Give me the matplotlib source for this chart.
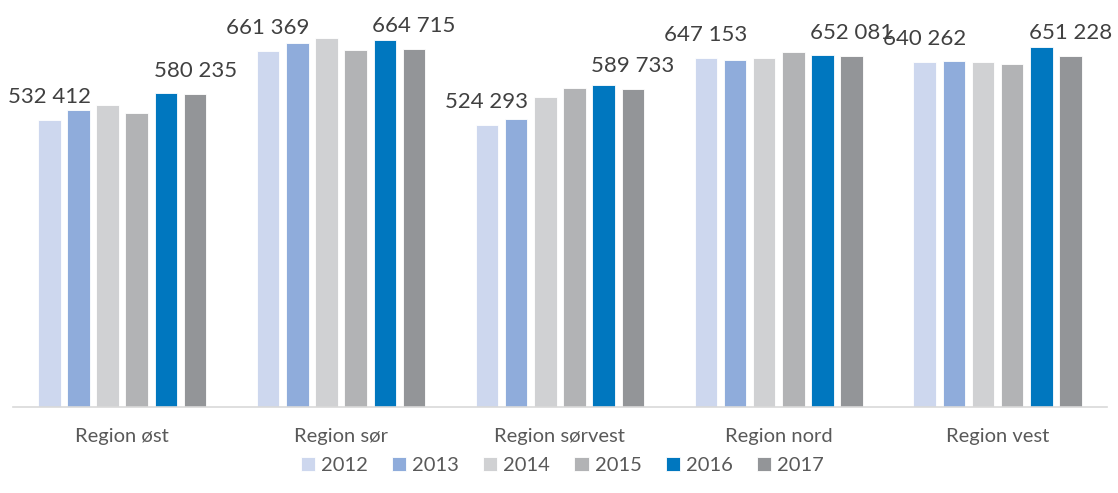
import numpy as np
import matplotlib.pyplot as plt

regions = ["Region øst", "Region sør", "Region sørvest", "Region nord", "Region vest"]
years = ["2012", "2013", "2014", "2015", "2016", "2017"]

v2012 = [532412, 661369, 524293, 647153, 640262]
v2013 = [551500, 676000, 534800, 644400, 642500]
v2014 = [560800, 685200, 575700, 648100, 640700]
v2015 = [546000, 663000, 592400, 659200, 637000]
v2016 = [583100, 681500, 598000, 653700, 668500]
v2017 = [580235, 664715, 589733, 652081, 651228]
series = [v2012, v2013, v2014, v2015, v2016, v2017]

colors = ["#CDD7EE", "#8FACDB", "#D0D1D3", "#B2B3B5", "#0077BF", "#939598"]
labelled = {0, 5}  # 2012 and 2017 carry value labels

plt.rcParams['font.family'] = ['Lato', 'DejaVu Sans']

fig = plt.figure(figsize=(11.18, 4.93), dpi=100)
ax = fig.add_axes([0.0114, 0.1744, 0.9788, 0.765])

x = np.arange(len(regions))
pitch = 0.1333
width = 0.103

for i, (vals, col) in enumerate(zip(series, colors)):
    pos = x + (i - 2.5) * pitch
    ax.bar(pos, vals, width=width, color=col, edgecolor='white', linewidth=0.6,
           label=years[i])
    if i in labelled:
        for px, v in zip(pos, vals):
            ax.annotate(f"{v:,}".replace(",", " "), (px, v), xytext=(0, 12.2),
                        textcoords='offset points', ha='center', va='baseline',
                        fontsize=16, color='#404040')

ax.set_xlim(-0.5, len(regions) - 0.5)
ax.set_ylim(0, 700000)
ax.set_xticks(x)
ax.set_xticklabels(regions, fontsize=14.5, color='#595959')
ax.tick_params(axis='x', length=0, pad=15)
ax.set_yticks([])
for s in ['top', 'right', 'left']:
    ax.spines[s].set_visible(False)
ax.spines['bottom'].set_color('#D9D9D9')
ax.spines['bottom'].set_linewidth(1.2)

leg = fig.legend(loc='center', bbox_to_anchor=(0.503, 0.055), ncol=6, frameon=False,
                 fontsize=14.5, handlelength=0.7, handleheight=0.7, handletextpad=0.3,
                 columnspacing=1.2)
for t in leg.get_texts():
    t.set_color('#595959')

fig.savefig('out.png', dpi=100)
